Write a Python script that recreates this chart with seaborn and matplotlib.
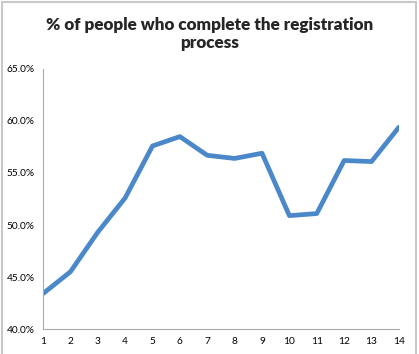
import seaborn as sns
import matplotlib.pyplot as plt
import matplotlib.ticker as mtick
import pandas as pd

# data
steps = list(range(1, 15))
pct_complete = [0.434, 0.455, 0.493, 0.526, 0.576, 0.585, 0.567,
                0.564, 0.569, 0.509, 0.511, 0.562, 0.561, 0.594]
y_ticks = [0.40, 0.45, 0.50, 0.55, 0.60, 0.65]

df = pd.DataFrame({'step': steps, 'pct': pct_complete})

sns.set_style('white')
plt.rcParams['font.family'] = ['Lato', 'DejaVu Sans']

fig = plt.figure(figsize=(4.19, 3.54), dpi=100)
ax = fig.add_axes([0.1026, 0.0706, 0.8494, 0.7345])

sns.lineplot(data=df, x='step', y='pct', color='#4a88c9', linewidth=3.4, ax=ax)

ax.set_xlim(1, 14)
ax.set_ylim(0.40, 0.65)
ax.set_xticks(steps)
ax.set_yticks(y_ticks)
ax.yaxis.set_major_formatter(mtick.PercentFormatter(1.0, decimals=1))
ax.tick_params(axis='both', labelsize=7.3, colors='#aaaaaa', labelcolor='black',
               length=3, width=0.8, direction='out', pad=3)
ax.set_xlabel('')
ax.set_ylabel('')

for side in ['top', 'right']:
    ax.spines[side].set_visible(False)
for side in ['left', 'bottom']:
    ax.spines[side].set_color('#aaaaaa')
    ax.spines[side].set_linewidth(0.8)

fig.text(0.5, 0.903, '% of people who complete the registration\nprocess',
         ha='center', va='center', fontsize=12.3, fontweight='heavy',
         linespacing=1.15)

# chart border
fig.patches.append(plt.Rectangle((0.004, -0.01), 0.99, 1.004, transform=fig.transFigure,
                                 fill=False, edgecolor='#c8c8c8', linewidth=1.5))

fig.savefig('out.png', dpi=100)
